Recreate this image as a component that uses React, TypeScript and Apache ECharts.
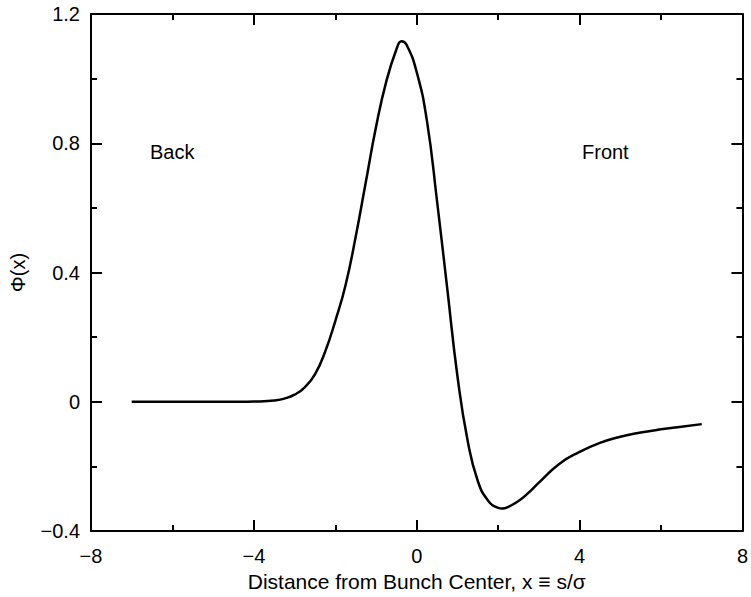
import React, { useEffect, useRef } from "react";
import * as echarts from "echarts";

const xValues = [-7, -6.5, -6, -5.5, -5, -4.5, -4, -3.75, -3.5, -3.25, -3.0, -2.75, -2.5, -2.25, -2.0, -1.75, -1.5, -1.25, -1.0, -0.75, -0.5, -0.375, -0.25, 0, 0.25, 0.5, 0.75, 1.0, 1.25, 1.5, 1.75, 2.0, 2.1, 2.25, 2.5, 2.75, 3.0, 3.5, 4.0, 4.5, 5.0, 5.5, 6.0, 6.5, 7.0];
const phiValues = [0, 0, 0, 0, 0, 0, 0.001, 0.002, 0.004, 0.01, 0.022, 0.045, 0.085, 0.155, 0.25, 0.36, 0.51, 0.68, 0.85, 0.99, 1.09, 1.116, 1.105, 1.02, 0.87, 0.62, 0.35, 0.08, -0.12, -0.245, -0.305, -0.328, -0.33, -0.325, -0.307, -0.281, -0.25, -0.192, -0.155, -0.127, -0.108, -0.095, -0.085, -0.077, -0.069];

const annotations = [
  { text: "Back", left: 150, top: 142 },
  { text: "Front", left: 582, top: 142 },
];

const xTitle = "Distance from Bunch Center, x \u2261 s/\u03c3";
const yTitle = "\u03a6(x)";

const FONT = "Liberation Sans";

const fmt = (v: number) => {
  const r = Math.round(v * 10) / 10;
  const s = Math.abs(r) < 1e-9 ? "0" : String(r);
  return s.replace("-", "\u2212");
};

export default function App() {
  const ref = useRef<HTMLDivElement>(null);
  useEffect(() => {
    if (!ref.current) return;
    const chart = echarts.init(ref.current, undefined, { renderer: "svg" });
    const tickCommon = {
      axisLine: { show: true, onZero: false, lineStyle: { color: "#000", width: 2 } },
      axisTick: { show: true, inside: true, length: 11, lineStyle: { color: "#000", width: 2 } },
      minorTick: { show: true, splitNumber: 2, length: 6, lineStyle: { color: "#000", width: 2 } },
      splitLine: { show: false },
      minorSplitLine: { show: false },
    };
    const data = xValues.map((x, i) => [x, phiValues[i]]);
    chart.setOption({
      animation: false,
      backgroundColor: "#fff",
      grid: { left: 87, right: 8, top: 14, bottom: 65, containLabel: false },
      xAxis: [
        {
          type: "value", min: -8, max: 8, interval: 4, position: "bottom",
          ...tickCommon,
          axisLabel: { color: "#000", fontFamily: FONT, fontSize: 20, margin: 15, formatter: fmt },
          name: xTitle, nameLocation: "middle", nameGap: 38,
          nameTextStyle: { color: "#000", fontFamily: FONT, fontSize: 21 },
        },
        {
          type: "value", min: -8, max: 8, interval: 4, position: "top",
          ...tickCommon,
          axisLabel: { show: false },
        },
      ],
      yAxis: [
        {
          type: "value", min: -0.4, max: 1.2, interval: 0.4, position: "left",
          ...tickCommon,
          axisLabel: { color: "#000", fontFamily: FONT, fontSize: 20, margin: 11, formatter: fmt },
          name: yTitle, nameLocation: "middle", nameGap: 63,
          nameTextStyle: { color: "#000", fontFamily: FONT, fontSize: 20 },
        },
        {
          type: "value", min: -0.4, max: 1.2, interval: 0.4, position: "right",
          ...tickCommon,
          axisLabel: { show: false },
        },
      ],
      series: [
        {
          type: "line",
          xAxisIndex: 0,
          yAxisIndex: 0,
          data,
          smooth: true,
          symbol: "none",
          lineStyle: { color: "#000", width: 2.5 },
        },
      ],
      graphic: annotations.map((a) => ({
        type: "text",
        left: a.left,
        top: a.top,
        style: { text: a.text, fill: "#000", font: `20px "${FONT}"` },
      })),
    });
    return () => chart.dispose();
  }, []);
  return <div ref={ref} style={{ width: 751, height: 597, position: "absolute", left: 0, top: 0 }} />;
}
